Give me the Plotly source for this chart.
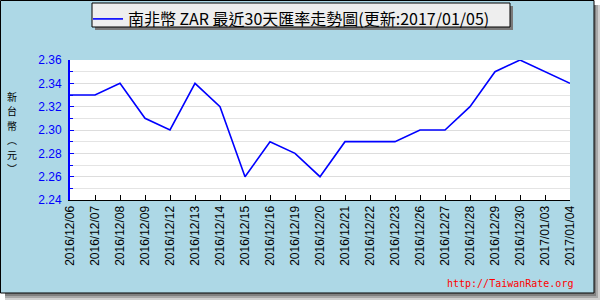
import plotly.graph_objects as go

# ---- data ----
dates = ["2016/12/06", "2016/12/07", "2016/12/08", "2016/12/09", "2016/12/12",
         "2016/12/13", "2016/12/14", "2016/12/15", "2016/12/16", "2016/12/19",
         "2016/12/20", "2016/12/21", "2016/12/22", "2016/12/23", "2016/12/26",
         "2016/12/27", "2016/12/28", "2016/12/29", "2016/12/30", "2017/01/03",
         "2017/01/04"]
rates = [2.33, 2.33, 2.34, 2.31, 2.30,
         2.34, 2.32, 2.26, 2.29, 2.28,
         2.26, 2.29, 2.29, 2.29, 2.30,
         2.30, 2.32, 2.35, 2.36, 2.35,
         2.34]
series_name = "南非幣 ZAR 最近30天匯率走勢圖(更新:2017/01/05)"
y_title_chars = ["新", "台", "幣", "︵", "元", "︶"]
watermark = "http://TaiwanRate.org"
y_min, y_max = 2.24, 2.36

# ---- geometry (pixels) ----
W, H = 600, 300
L, R, T, B = 70, 570, 60, 200


def px(x):
    return (x - L) / (R - L)


def py(y):
    return (B - y) / (B - T)


def rect(x0, y0, x1, y1, fill, line=None, lw=0):
    return dict(type="rect", xref="paper", yref="paper", layer="below",
                x0=px(x0), x1=px(x1), y0=py(y1), y1=py(y0),
                fillcolor=fill, line=dict(color=line or fill, width=lw))


shapes = [
    # outer shadow (gradient)
    rect(594, 5, 600, 300, "#d0d0d0"),
    rect(5, 293, 600, 300, "#d0d0d0"),
    rect(594, 5, 598, 298, "#a8a8a8"),
    rect(5, 293, 598, 298, "#a8a8a8"),
    rect(594, 5, 596, 296, "#808080"),
    rect(5, 293, 596, 296, "#808080"),
    # outer panel
    rect(0.5, 0.5, 594, 293, "#ADD8E6", "black", 1),
    # plot area
    rect(L, T, R, B, "white"),
    # legend shadow + box
    rect(95, 6, 513, 30, "#7a7a7a"),
    rect(92, 3, 510, 27, "#EEEEEE", "black", 1),
]

fig = go.Figure()
fig.add_trace(go.Scatter(
    x=dates, y=rates, mode="lines", name=series_name,
    line=dict(color="#0000FF", width=1.6),
))

annotations = []
# vertical (upright) y-axis title, one character per line
step = 14.5
top_center = 96
for i, ch in enumerate(y_title_chars):
    annotations.append(dict(
        text=ch, xref="paper", yref="paper",
        x=px(12), y=py(top_center + i * step),
        xanchor="center", yanchor="middle", showarrow=False,
        borderpad=0,
        font=dict(family="Noto Sans CJK TC", size=10, color="black")))
annotations.append(dict(
    text=watermark, xref="paper", yref="paper", x=px(575), y=py(283),
    xanchor="right", yanchor="middle", showarrow=False,
    font=dict(family="DejaVu Sans Mono", size=10, color="#FF0000")))

fig.update_layout(
    width=W, height=H,
    margin=dict(l=L, r=W - R, t=T, b=H - B, pad=0, autoexpand=False),
    paper_bgcolor="white", plot_bgcolor="white",
    shapes=shapes, annotations=annotations,
    showlegend=True,
    legend=dict(xref="container", yref="container",
                x=88 / W, y=1 - 2 / H, xanchor="left", yanchor="top",
                bgcolor="rgba(0,0,0,0)", borderwidth=0,
                font=dict(family="Noto Sans CJK TC", size=16, color="black"),
                orientation="h"),
    xaxis=dict(type="category", range=[0, len(dates) - 1],
               tickangle=-90, ticks="inside", ticklen=5, tickcolor="black",
               tickfont=dict(family="Liberation Sans", size=12, color="black"),
               showgrid=False, showline=True, linecolor="black", linewidth=1,
               zeroline=False, fixedrange=True),
    yaxis=dict(range=[y_min, y_max], dtick=0.02, tick0=y_min, tickformat=".2f",
               ticks="inside", ticklen=4, tickcolor="#0000FF", tickwidth=1,
               ticklabelstandoff=4,
               tickfont=dict(family="Liberation Sans", size=12, color="#0000FF"),
               showgrid=True, gridcolor="#dddddd", gridwidth=1,
               minor=dict(dtick=0.01, tick0=y_min, ticks="inside", ticklen=3,
                          tickcolor="#0000FF", showgrid=True,
                          gridcolor="#e4e4e4"),
               showline=True, linecolor="#0000FF", linewidth=2,
               zeroline=False, fixedrange=True),
)

fig.write_html("out.html")
